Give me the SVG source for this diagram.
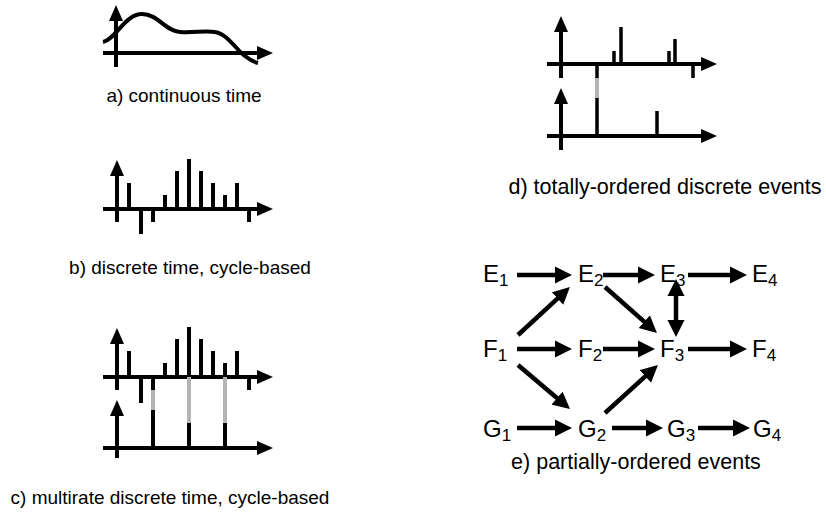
<svg xmlns="http://www.w3.org/2000/svg" width="826" height="523" viewBox="0 0 826 523">
<style>
.ax{stroke:#000;stroke-width:4;fill:none}
.st{stroke:#000;stroke-width:4;fill:none}
.gr{stroke:#b4b4b4;stroke-width:4;fill:none}
.cap{font-family:"Liberation Sans",Arial,sans-serif;font-size:19px;fill:#000;text-anchor:middle}
.capr{font-family:"Liberation Sans",Arial,sans-serif;font-size:21.5px;fill:#000;text-anchor:middle}
.lb{font-family:"Liberation Sans",Arial,sans-serif;font-size:24px;fill:#000}
.sb{font-size:17px}
.ar{stroke:#000;stroke-width:4.5;fill:none;marker-end:url(#ah)}
</style>
<defs>
<marker id="ax" viewBox="0 0 16 16" refX="1" refY="8" markerWidth="16" markerHeight="16" markerUnits="userSpaceOnUse" orient="auto"><path d="M0,1 L16,8 L0,15 z" fill="#000"/></marker>
<marker id="ah" viewBox="0 0 17 18" refX="1" refY="9" markerWidth="17" markerHeight="18" markerUnits="userSpaceOnUse" orient="auto-start-reverse"><path d="M0,0.5 L17,9 L0,17.5 z" fill="#000"/></marker>
</defs>

<g id="panel-a">
<line class="ax" x1="116" y1="67" x2="116" y2="20" marker-end="url(#ax)"/>
<line class="ax" x1="103" y1="53" x2="258" y2="53" marker-end="url(#ax)"/>
<path class="st" d="M103,42 C115,40 125,14 142,14 C158,14 165,31 180,32 C195,33 205,30 215,32 C228,34 238,52 245,56 C250,60 254,62 258,63"/>
<text class="cap" x="184" y="102">a) continuous time</text>
</g>

<g id="panel-b">
<line class="ax" x1="117" y1="222" x2="117" y2="175" marker-end="url(#ax)"/>
<line class="ax" x1="103" y1="209" x2="258" y2="209" marker-end="url(#ax)"/>
<path class="st" d="M129,209V183 M141,209V234 M153,209V222 M165,209V195 M177,209V171 M189,209V159 M201,209V171 M213,209V183 M225,209V195 M237,209V183 M249,209V222"/>
<text class="cap" x="190" y="274">b) discrete time, cycle-based</text>
</g>

<g id="panel-c">
<line class="ax" x1="117" y1="390" x2="117" y2="343" marker-end="url(#ax)"/>
<line class="ax" x1="103" y1="377" x2="258" y2="377" marker-end="url(#ax)"/>
<path class="st" d="M129,377V351 M141,377V403 M153,377V390 M165,377V363 M177,377V339 M189,377V327 M201,377V339 M213,377V351 M225,377V363 M237,377V351 M249,377V390"/>
<path class="gr" d="M153,390V410 M189,377V423 M225,377V423"/>
<line class="ax" x1="117" y1="458" x2="117" y2="415" marker-end="url(#ax)"/>
<line class="ax" x1="103" y1="448" x2="258" y2="448" marker-end="url(#ax)"/>
<path class="st" d="M153,410V448 M189,423V448 M225,423V448"/>
<text class="cap" x="170" y="504">c) multirate discrete time, cycle-based</text>
</g>

<g id="panel-d">
<line class="ax" x1="561" y1="78" x2="561" y2="31" marker-end="url(#ax)"/>
<line class="ax" x1="547" y1="64" x2="702" y2="64" marker-end="url(#ax)"/>
<path class="st" style="stroke-width:3.5" d="M614,64V51 M621,64V27 M669,64V51 M675,64V39 M693,64V78 M597,64V78"/>
<path class="gr" d="M597,78V98"/>
<line class="ax" x1="561" y1="150" x2="561" y2="103" marker-end="url(#ax)"/>
<line class="ax" x1="547" y1="136" x2="702" y2="136" marker-end="url(#ax)"/>
<path class="st" style="stroke-width:3.5" d="M597,98V136 M657,136V111"/>
<text class="capr" x="665" y="194">d) totally-ordered discrete events</text>
</g>

<g id="panel-e">
<g id="E1"><text class="lb" x="483" y="282">E<tspan class="sb" dy="4">1</tspan></text></g>
<g id="E2"><text class="lb" x="578" y="282">E<tspan class="sb" dy="4">2</tspan></text></g>
<g id="E3"><text class="lb" x="660" y="282">E<tspan class="sb" dy="4">3</tspan></text></g>
<g id="E4"><text class="lb" x="752" y="282">E<tspan class="sb" dy="4">4</tspan></text></g>
<g id="F1"><text class="lb" x="483" y="357">F<tspan class="sb" dy="4">1</tspan></text></g>
<g id="F2"><text class="lb" x="578" y="357">F<tspan class="sb" dy="4">2</tspan></text></g>
<g id="F3"><text class="lb" x="660" y="357">F<tspan class="sb" dy="4">3</tspan></text></g>
<g id="F4"><text class="lb" x="752" y="357">F<tspan class="sb" dy="4">4</tspan></text></g>
<g id="G1"><text class="lb" x="483" y="437">G<tspan class="sb" dy="4">1</tspan></text></g>
<g id="G2"><text class="lb" x="578" y="437">G<tspan class="sb" dy="4">2</tspan></text></g>
<g id="G3"><text class="lb" x="667" y="437">G<tspan class="sb" dy="4">3</tspan></text></g>
<g id="G4"><text class="lb" x="753" y="437">G<tspan class="sb" dy="4">4</tspan></text></g>
<g id="connectors">
<line class="ar" x1="517" y1="275" x2="556" y2="275"/>
<line class="ar" x1="603" y1="275" x2="639" y2="275"/>
<line class="ar" x1="688" y1="275" x2="731" y2="275"/>
<line class="ar" x1="517" y1="349" x2="556" y2="349"/>
<line class="ar" x1="603" y1="349" x2="639" y2="349"/>
<line class="ar" x1="688" y1="349" x2="731" y2="349"/>
<line class="ar" x1="517" y1="428" x2="556" y2="428"/>
<line class="ar" x1="612" y1="428" x2="647" y2="428"/>
<line class="ar" x1="698" y1="428" x2="734" y2="428"/>
<line class="ar" x1="518" y1="335" x2="558.2" y2="297.8"/>
<line class="ar" x1="518" y1="365" x2="557.8" y2="398.7"/>
<line class="ar" x1="605" y1="287" x2="645" y2="322.4"/>
<line class="ar" x1="605" y1="413" x2="646.1" y2="375.7"/>
<line class="ar" x1="676" y1="295" x2="676" y2="321" marker-start="url(#ah)"/>
</g>
<text class="capr" x="636" y="469">e) partially-ordered events</text>
</g>
</svg>
